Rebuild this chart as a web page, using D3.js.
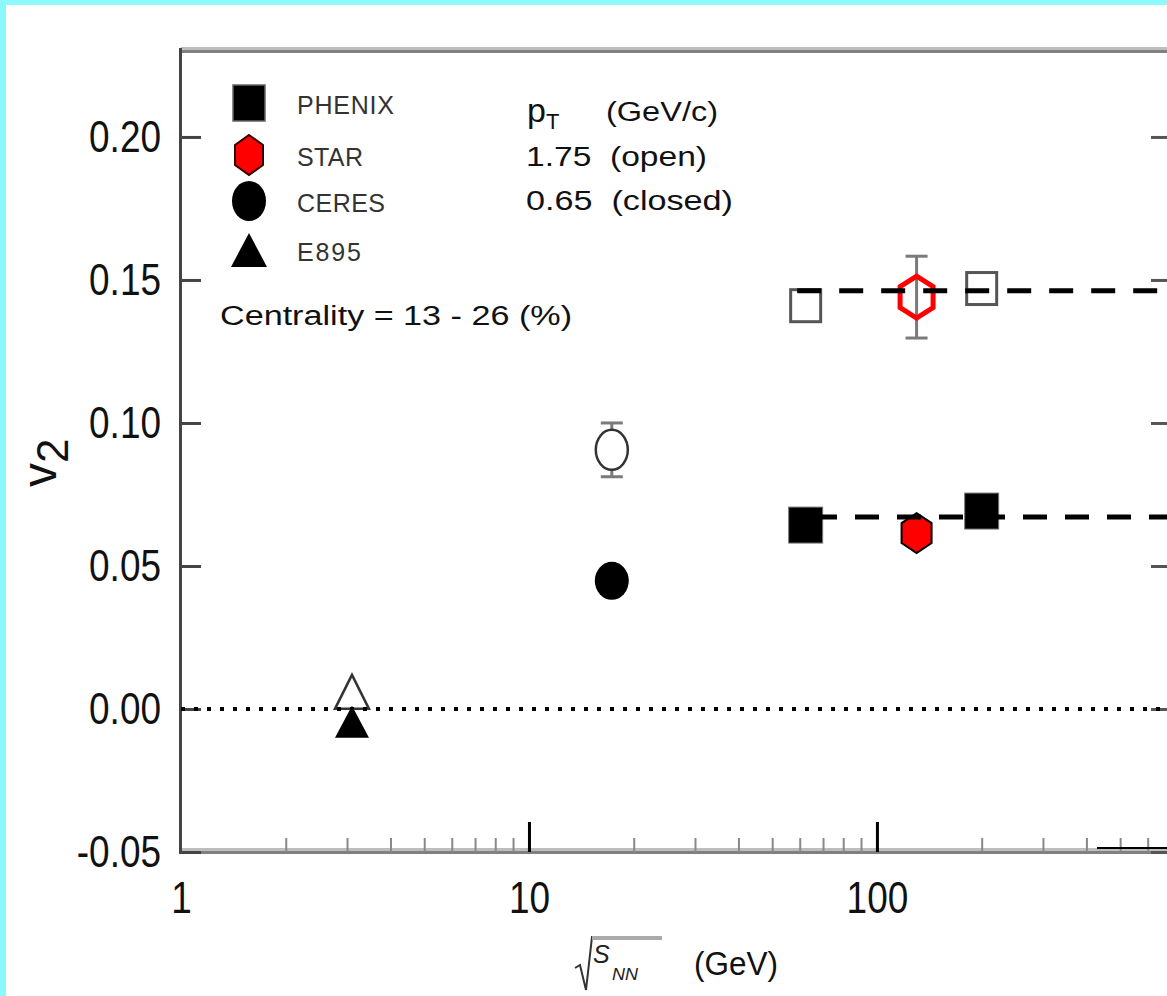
<!DOCTYPE html>
<html lang="en">
<head>
    <meta charset="UTF-8">
    <title>v2 vs sqrt(sNN)</title>
    <script src="https://cdn.jsdelivr.net/npm/d3@7/dist/d3.min.js" type="text/javascript"></script>
    <style>
        body { margin: 0; background: #fff; }
        svg { display: block; }
        text { font-family: "Liberation Sans", Arial, sans-serif; white-space: pre; }
    </style>
</head>
<body>
<svg width="1167" height="996"></svg>
<script type="text/javascript">
    // data (energy in GeV, v2)
    var phenixOpen = [[62.4, 0.141], [200, 0.147]];
    var phenixClosed = [[62.4, 0.0643], [200, 0.0692]];
    var starOpen = [[130, 0.144, 0.0143]];
    var starClosed = [[130, 0.0615]];
    var ceresOpen = [[17.3, 0.0906, 0.0094]];
    var ceresClosed = [[17.3, 0.0448]];
    var e895Open = [[3.1, 0.006]];
    var e895Closed = [[3.1, -0.0045]];
    var openAvg = [[59, 0.1462], [700, 0.1462]];
    var closedAvg = [[65.5, 0.0671], [700, 0.0671]];
    var zeroLine = [[1, 0], [700, 0]];

    var yTicks = [-0.05, 0, 0.05, 0.10, 0.15, 0.20];
    var xMajor = [1, 10, 100];
    var xMinor = [2, 3, 4, 5, 6, 7, 8, 9, 20, 30, 40, 50, 60, 70, 80, 90, 200, 300, 400, 500, 600];
    var legendNames = ["PHENIX", "STAR", "CERES", "E895"];

    var svg = d3.select("svg");
    var marge = {top: 50, left: 181, bottom: 852, right: 1171};

    var x = d3.scaleLog().domain([1, 700]).range([marge.left, marge.right]);
    var y = d3.scaleLinear().domain([-0.05, 0.2304]).range([marge.bottom, marge.top]);

    // cyan border of the scan
    svg.append("rect").attr("x", 0).attr("y", 0).attr("width", 1167).attr("height", 5).attr("fill", "#8cf9fc");
    svg.append("rect").attr("x", 0).attr("y", 0).attr("width", 6).attr("height", 996).attr("fill", "#8cf9fc");

    // frame
    svg.append("line").attr("x1", marge.left).attr("x2", 1167).attr("y1", 48.5).attr("y2", 48.5)
        .attr("stroke", "#bdbdbd").attr("stroke-width", 3);
    svg.append("line").attr("x1", marge.left).attr("x2", 1167).attr("y1", 51.5).attr("y2", 51.5)
        .attr("stroke", "#808080").attr("stroke-width", 3);
    svg.append("line").attr("x1", marge.left).attr("x2", 1167).attr("y1", 849.5).attr("y2", 849.5)
        .attr("stroke", "#bdbdbd").attr("stroke-width", 3);
    svg.append("line").attr("x1", marge.left).attr("x2", 1167).attr("y1", 852.5).attr("y2", 852.5)
        .attr("stroke", "#808080").attr("stroke-width", 3);
    svg.append("line").attr("x1", 180.5).attr("x2", 180.5).attr("y1", 48).attr("y2", 854)
        .attr("stroke", "#444").attr("stroke-width", 3);

    function condense(sel, k) {
        sel.each(function () {
            var w = this.getComputedTextLength();
            d3.select(this).attr("textLength", w * k).attr("lengthAdjust", "spacingAndGlyphs");
        });
    }

    // y axis (left, labelled)
    var yAxis = d3.axisLeft(y).tickValues(yTicks).tickSize(-20).tickPadding(20)
        .tickFormat(function (d) { return d.toFixed(2); });
    var gy = svg.append("g").attr("transform", "translate(" + marge.left + ",0)").call(yAxis);
    gy.select(".domain").remove();
    gy.selectAll(".tick line").attr("stroke", "#444").attr("stroke-width", 3);
    gy.selectAll(".tick text").attr("font-size", 44).attr("fill", "#111")
        .style("font-family", "Liberation Sans, Arial, sans-serif").call(condense, 0.84);

    // right axis ticks only
    var gr = svg.append("g").attr("transform", "translate(" + marge.right + ",0)")
        .call(d3.axisRight(y).tickValues(yTicks).tickSize(-20).tickFormat(""));
    gr.select(".domain").remove();
    gr.selectAll(".tick line").attr("stroke", "#555").attr("stroke-width", 3);

    // x axis
    var gx = svg.append("g").attr("transform", "translate(0," + marge.bottom + ")")
        .call(d3.axisBottom(x).tickValues(xMajor).tickSize(-30).tickPadding(30).tickFormat(d3.format("d")));
    gx.select(".domain").remove();
    gx.selectAll(".tick line").attr("stroke", "#000").attr("stroke-width", 3)
        .filter(function (d) { return d === 1; }).remove();
    gx.selectAll(".tick text").attr("font-size", 44).attr("fill", "#111")
        .style("font-family", "Liberation Sans, Arial, sans-serif").call(condense, 0.84);
    var gm = svg.append("g").attr("transform", "translate(0," + marge.bottom + ")")
        .call(d3.axisBottom(x).tickValues(xMinor).tickSize(-14).tickFormat(""));
    gm.select(".domain").remove();
    gm.selectAll(".tick line").attr("stroke", "#888").attr("stroke-width", 2);
    svg.append("line").attr("x1", 1097).attr("x2", 1167).attr("y1", 848).attr("y2", 848)
        .attr("stroke", "#000").attr("stroke-width", 2);

    // marker shapes
    function hexPath(w, h) {
        return "M0," + (-h / 2) + "L" + (w / 2) + "," + (-h / 4) + "L" + (w / 2) + "," + (h / 4) +
            "L0," + (h / 2) + "L" + (-w / 2) + "," + (h / 4) + "L" + (-w / 2) + "," + (-h / 4) + "Z";
    }
    function triPath(w, h) {
        return "M0," + (-h / 2) + "L" + (w / 2) + "," + (h / 2) + "L" + (-w / 2) + "," + (h / 2) + "Z";
    }
    function errorBars(data) {
        var g = svg.append("g").attr("stroke", "#7a7a7a").attr("stroke-width", 3);
        data.forEach(function (d) {
            var cx = x(d[0]), y1 = y(d[1] + d[2]), y2 = y(d[1] - d[2]);
            g.append("line").attr("x1", cx).attr("x2", cx).attr("y1", y1).attr("y2", y2);
            g.append("line").attr("x1", cx - 11).attr("x2", cx + 11).attr("y1", y1).attr("y2", y1);
            g.append("line").attr("x1", cx - 11).attr("x2", cx + 11).attr("y1", y2).attr("y2", y2);
        });
    }
    function pt(d) { return "translate(" + x(d[0]) + "," + y(d[1]) + ")"; }

    errorBars(starOpen);
    errorBars(ceresOpen);

    // E895
    svg.selectAll(".e895o").data(e895Open).enter().append("path")
        .attr("transform", pt).attr("d", triPath(34, 34))
        .attr("fill", "#fff").attr("stroke", "#333").attr("stroke-width", 2.5);
    svg.selectAll(".e895c").data(e895Closed).enter().append("path")
        .attr("transform", pt).attr("d", triPath(34, 32)).attr("fill", "#000");

    // CERES
    svg.selectAll(".cereso").data(ceresOpen).enter().append("ellipse")
        .attr("cx", function (d) { return x(d[0]); }).attr("cy", function (d) { return y(d[1]); })
        .attr("rx", 16).attr("ry", 20).attr("fill", "#fff").attr("stroke", "#333").attr("stroke-width", 2.5);
    svg.selectAll(".eresc").data(ceresClosed).enter().append("ellipse")
        .attr("cx", function (d) { return x(d[0]); }).attr("cy", function (d) { return y(d[1]); })
        .attr("rx", 17).attr("ry", 19).attr("fill", "#000");

    // PHENIX
    svg.selectAll(".pho").data(phenixOpen).enter().append("rect")
        .attr("x", function (d) { return x(d[0]) - 15; }).attr("y", function (d) { return y(d[1]) - 16; })
        .attr("width", 30).attr("height", 32).attr("fill", "none").attr("stroke", "#555").attr("stroke-width", 3);
    svg.selectAll(".phc").data(phenixClosed).enter().append("rect")
        .attr("x", function (d) { return x(d[0]) - 17; }).attr("y", function (d) { return y(d[1]) - 18; })
        .attr("width", 34).attr("height", 36).attr("fill", "#000").attr("stroke", "#777").attr("stroke-width", 1);

    // STAR
    svg.selectAll(".sto").data(starOpen).enter().append("path")
        .attr("transform", pt).attr("d", hexPath(33, 42))
        .attr("fill", "none").attr("stroke", "#ff0000").attr("stroke-width", 5);
    svg.selectAll(".stc").data(starClosed).enter().append("path")
        .attr("transform", pt).attr("d", hexPath(30, 40))
        .attr("fill", "#ff0000").attr("stroke", "#000").attr("stroke-width", 2);

    // reference lines, drawn over the markers
    var line = d3.line().x(function (d) { return x(d[0]); }).y(function (d) { return y(d[1]); });
    svg.append("path").datum(zeroLine).attr("d", line).attr("fill", "none")
        .attr("stroke", "#000").attr("stroke-width", 4).attr("stroke-dasharray", "4,9");
    svg.append("path").datum(openAvg).attr("d", line).attr("fill", "none")
        .attr("stroke", "#000").attr("stroke-width", 5).attr("stroke-dasharray", "24,18");
    svg.append("path").datum(closedAvg).attr("d", line).attr("fill", "none")
        .attr("stroke", "#000").attr("stroke-width", 5).attr("stroke-dasharray", "24,18");

    // legend
    var lg = svg.append("g");
    var legY = [103, 155, 201, 250];
    lg.append("rect").attr("x", 233).attr("y", legY[0] - 18).attr("width", 32).attr("height", 36)
        .attr("fill", "#000").attr("stroke", "#666").attr("stroke-width", 1.5);
    lg.append("path").attr("transform", "translate(249," + legY[1] + ")").attr("d", hexPath(28, 40))
        .attr("fill", "#ff0000").attr("stroke", "#300").attr("stroke-width", 2);
    lg.append("ellipse").attr("cx", 249).attr("cy", legY[2]).attr("rx", 17).attr("ry", 20).attr("fill", "#000");
    lg.append("path").attr("transform", "translate(249," + legY[3] + ")").attr("d", triPath(36, 34)).attr("fill", "#000");
    var legW = [97, 66, 88, 64];
    lg.selectAll(".lt").data(legendNames).enter().append("text")
        .attr("x", 297).attr("y", function (d, i) { return legY[i] + 11; })
        .attr("font-size", 25).attr("fill", "#333")
        .attr("textLength", function (d, i) { return legW[i]; }).attr("lengthAdjust", "spacing")
        .text(function (d) { return d; });

    // annotation block
    var ann = svg.append("g").style("font-family", "Open Sans, sans-serif").attr("fill", "#111");
    var pT = ann.append("text").attr("x", 527).attr("y", 122).attr("font-size", 34);
    pT.append("tspan").text("p");
    pT.append("tspan").attr("font-size", 22).attr("dy", 7).text("T");
    ann.append("text").attr("x", 606).attr("y", 121).attr("font-size", 27).attr("textLength", 112)
        .attr("lengthAdjust", "spacingAndGlyphs").text("(GeV/c)");
    ann.append("text").attr("x", 526).attr("y", 166).attr("font-size", 27).attr("textLength", 181)
        .attr("lengthAdjust", "spacingAndGlyphs").text("1.75  (open)");
    ann.append("text").attr("x", 526).attr("y", 210).attr("font-size", 27).attr("textLength", 207)
        .attr("lengthAdjust", "spacingAndGlyphs").text("0.65  (closed)");
    ann.append("text").attr("x", 220).attr("y", 325).attr("font-size", 27).attr("textLength", 352)
        .attr("lengthAdjust", "spacingAndGlyphs").text("Centrality = 13 - 26 (%)");

    // y label
    var yl = svg.append("text").attr("transform", "translate(56,487) rotate(-90)")
        .attr("font-size", 48).attr("fill", "#111");
    yl.append("tspan").text("v");
    yl.append("tspan").attr("dy", 12).attr("font-size", 44).text("2");

    // x label: sqrt(s_NN) (GeV)
    svg.append("path").attr("d", "M575,968 L580,965 L586,990 L592,937 L662,937")
        .attr("fill", "none").attr("stroke", "#333").attr("stroke-width", 2);
    svg.append("line").attr("x1", 592).attr("x2", 662).attr("y1", 938).attr("y2", 938)
        .attr("stroke", "#aaa").attr("stroke-width", 4);
    svg.append("text").attr("x", 593).attr("y", 963).attr("font-size", 25).attr("font-style", "italic")
        .attr("fill", "#222").text("S");
    svg.append("text").attr("x", 612).attr("y", 980).attr("font-size", 16).attr("font-style", "italic")
        .attr("fill", "#222").attr("textLength", 26).attr("lengthAdjust", "spacingAndGlyphs").text("NN");
    svg.append("text").attr("x", 694).attr("y", 975).attr("font-size", 34).attr("fill", "#111")
        .attr("textLength", 84).attr("lengthAdjust", "spacingAndGlyphs").text("(GeV)");
</script>
</body>
</html>
